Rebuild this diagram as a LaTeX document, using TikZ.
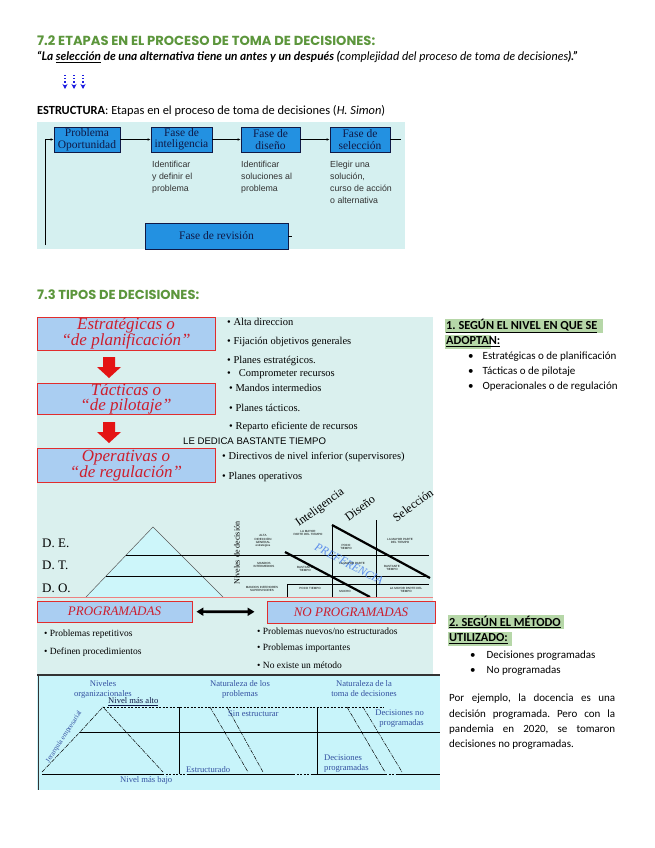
\documentclass[tikz,border=0pt]{standalone}
\usepackage{fontspec}
\usepackage{graphicx}
\setmainfont{Liberation Serif}
\newfontfamily\pop{Poppins}
\newfontfamily\lato{Lato}
\newfontfamily\carl{Carlito}
\newfontfamily\lsans{Liberation Sans}
\usetikzlibrary{arrows.meta,calc}
\definecolor{hgreen}{RGB}{92,150,60}
\definecolor{bgone}{RGB}{213,240,240}
\definecolor{boxblue}{RGB}{35,145,225}
\definecolor{navy}{RGB}{15,25,70}
\definecolor{bgtwo}{RGB}{218,240,238}
\definecolor{pyrfill}{RGB}{205,246,250}
\definecolor{lblue}{RGB}{170,206,242}
\definecolor{rbord}{RGB}{225,45,45}
\definecolor{rtext}{RGB}{205,30,45}
\definecolor{prefblue}{RGB}{90,140,235}
\definecolor{bgthree}{RGB}{200,244,250}
\definecolor{tblue}{RGB}{50,80,160}
\definecolor{hlgreen}{RGB}{182,215,168}
\definecolor{dgray}{RGB}{50,50,50}
\definecolor{arrblue}{RGB}{30,30,225}
\definecolor{redarr}{RGB}{228,20,20}
\frenchspacing
\begin{document}
\begin{tikzpicture}[x=1pt,y=-1pt,
  plain/.style={anchor=west,inner sep=0},
  bbox/.style={draw=navy,line width=0.7pt,fill=boxblue,text=navy,inner sep=0,align=center,font=\fontsize{11.5}{11.5}\selectfont,minimum height=25pt},
  flow/.style={line width=0.6pt,-{Latex[length=3pt,width=2.6pt]}},
  sub/.style={anchor=north west,inner sep=0,align=left,text=dgray,font=\lsans\fontsize{8.8}{12}\selectfont},
  rbox/.style={draw=rbord,line width=1pt,fill=lblue,text=rtext,align=center,inner sep=0,font=\fontsize{17}{15}\selectfont\itshape,minimum width=178pt},
  bul/.style={anchor=west,inner sep=0,font=\fontsize{10.5}{12}\selectfont},
  tiny/.style={inner sep=0,align=center,font=\lsans\fontsize{3}{3.4}\selectfont},
  pbul/.style={anchor=west,inner sep=0,font=\fontsize{9.5}{11}\selectfont},
  tlab/.style={inner sep=0,align=center,text=tblue,font=\fontsize{8.6}{10}\selectfont},
  rtxt/.style={anchor=west,inner sep=0,font=\carl\fontsize{11}{12}\selectfont},
  rhead/.style={anchor=west,inner sep=0,font=\carl\bfseries\fontsize{12.3}{13}\selectfont},
]
\useasboundingbox (0,0) rectangle (655,848);
\fill[white] (0,0) rectangle (655,848);

% ---------- 7.2 ----------
\node[plain,text=hgreen] (h72) at (37,41) {\resizebox{338pt}{!}{\pop\bfseries 7.2 ETAPAS EN EL PROCESO DE TOMA DE DECISIONES:}};
\node[plain] (quote) at (37,57.5) {\resizebox{540pt}{!}{\lato\bfseries\itshape “La \underline{selección} de una alternativa tiene un antes y un después ({\mdseries complejidad del proceso de toma de decisiones}).”}};

\foreach \i/\xx in {1/65,2/74,3/83}{
  \coordinate (da\i) at (\xx,75);
  \coordinate (db\i) at (\xx,89);
  \draw[arrblue,dotted,line width=1.2pt,-{Stealth[length=5pt,width=5pt]}] (da\i) -- (db\i);
}

\node[plain] (estr) at (37,111) {\resizebox{348pt}{!}{\carl{\bfseries ESTRUCTURA}: Etapas en el proceso de toma de decisiones ({\itshape H. Simon})}};

\fill[bgone] (37,122) rectangle (405,249);
\node[bbox,minimum width=66pt] (pb) at (87,139.5) {Problema\\Oportunidad};
\node[bbox,minimum width=61pt] (fi) at (181.5,139.5) {Fase de\\inteligencia};
\node[bbox,minimum width=59pt] (fd) at (270.5,139.5) {Fase de\\diseño};
\node[bbox,minimum width=60pt] (fs) at (360,139.5) {Fase de\\selección};
\node[bbox,minimum width=143pt,minimum height=26pt] (fr) at (216.5,236) {Fase de revisión};
\coordinate (fb) at (45,245);
\coordinate (ft) at (401,139.5);
\coordinate (rt) at (292,236);
\draw[flow] (fb) |- (pb.west);
\draw[flow] (pb) -- (fi);
\draw[flow] (fi) -- (fd);
\draw[flow] (fd) -- (fs);
\draw[line width=0.6pt] (fs.east) -- (ft);
\draw[line width=0.6pt] (fr.east) -- (rt);
\node[sub] (s1) at (152,161) {Identificar\\y definir el\\problema};
\node[sub] (s2) at (241,161) {Identificar\\soluciones al\\problema};
\node[sub] (s3) at (330,161) {Elegir una\\solución,\\curso de acción\\o alternativa};

% ---------- 7.3 ----------
\node[plain,text=hgreen] (h73) at (37,295) {\resizebox{162pt}{!}{\pop\bfseries 7.3 TIPOS DE DECISIONES:}};

\fill[bgtwo] (37,317) rectangle (433,675);
\node[rbox,minimum height=33pt] (est) at (126,333.5) {Estratégicas o\\“de planificación”};
\node[rbox,minimum height=31pt] (tac) at (126,398.5) {Tácticas o\\“de pilotaje”};
\node[rbox,minimum height=34pt] (ope) at (126,465.5) {Operativas o\\“de regulación”};
\fill[redarr] (103,357) -- (115,357) -- (115,367) -- (121,367) -- (109,378) -- (97,367) -- (103,367) -- cycle;
\fill[redarr] (103,422) -- (115,422) -- (115,432) -- (121,432) -- (109,443) -- (97,432) -- (103,432) -- cycle;

\node[bul] (b1) at (227,322) {• Alta direccion};
\node[bul] (b2) at (227,342) {• Fijación objetivos generales};
\node[bul] (b3) at (227,361) {• Planes estratégicos.};
\node[bul] (b4) at (227,374) {•\hspace{8pt}Comprometer recursos};
\node[bul] (b5) at (229,388) {• Mandos intermedios};
\node[bul] (b6) at (229,408) {• Planes tácticos.};
\node[bul] (b7) at (229,427) {• Reparto eficiente de recursos};
\node[plain,font=\lsans\fontsize{9.6}{11}\selectfont] (led) at (183,441) {LE DEDICA BASTANTE TIEMPO};
\node[bul] (b8) at (222,457) {• Directivos de nivel inferior (supervisores)};
\node[bul] (b9) at (222,477) {• Planes operativos};

% pyramid
\fill[pyrfill] (153,527) -- (86,597) -- (223,597) -- cycle;
\draw[gray!70!black,line width=0.5pt] (86,597) -- (153,527) -- (223,597);
\draw[line width=0.9pt] (126,555) -- (429,555);
\draw[line width=0.9pt] (106,576) -- (429,576);
\draw[line width=0.7pt] (287,597) -- (287,584) -- (429,584);
\draw[line width=0.7pt] (332,525) -- (332,597);
\draw[line width=0.7pt] (376,520) -- (376,597);
\draw[line width=2.2pt] (332,525) -- (430,578);
\draw[line width=2.2pt] (285,552) -- (370,597);
\node[anchor=west,inner sep=0,font=\fontsize{13}{14}\selectfont] (de) at (42,543) {D. E.};
\node[anchor=west,inner sep=0,font=\fontsize{13}{14}\selectfont] (dt) at (42,565) {D. T.};
\node[anchor=west,inner sep=0,font=\fontsize{13}{14}\selectfont] (do) at (42,588) {D. O.};
\node[rotate=90,inner sep=0,font=\fontsize{8}{9}\selectfont] (niv) at (237,553) {Niveles de decisión};
\node[rotate=36,inner sep=0,font=\fontsize{12}{13}\selectfont] (ci) at (320,508) {Inteligencia};
\node[rotate=36,inner sep=0,font=\fontsize{12}{13}\selectfont] (cd) at (360,508) {Diseño};
\node[rotate=36,inner sep=0,font=\fontsize{12}{13}\selectfont] (cs) at (413,505) {Selección};
\node[rotate=-28,inner sep=0,text=prefblue,font=\fontsize{11.5}{12}\selectfont\itshape] (pref) at (349,564) {PREFERENCIA};
\node[tiny] (x1) at (263,541) {ALTA\\DIRECCIÓN\\GENERAL\\estratégica};
\node[tiny] (x2) at (308,533) {LA MAYOR\\PARTE DEL TIEMPO};
\node[tiny] (x3) at (346,547) {POCO\\TIEMPO};
\node[tiny] (x4) at (400,541) {LA MAYOR PARTE\\DEL TIEMPO};
\node[tiny] (x5) at (264,565) {MANDOS\\INTERMEDIOS};
\node[tiny] (x6) at (305,569) {BASTANTE\\TIEMPO};
\node[tiny] (x7) at (352,563) {LA MAYOR PARTE};
\node[tiny] (x8) at (392,568) {BASTANTE\\TIEMPO};
\node[tiny] (x9) at (262,589) {MANDOS INFERIORES\\SUPERVISORES};
\node[tiny] (x10) at (310,588) {POCO TIEMPO};
\node[tiny] (x11) at (345,591) {MUCHO};
\node[tiny] (x12) at (406,590) {LA MAYOR PARTE DEL\\TIEMPO};

% programadas
\draw[rbord!60,line width=0.6pt] (37,597) -- (433,597);
\node[draw=rbord,line width=0.9pt,fill=lblue,text=rtext,minimum width=155pt,minimum height=21pt,inner sep=0,font=\fontsize{13}{14}\selectfont\itshape] (prog) at (114.5,611.5) {PROGRAMADAS};
\node[draw=rbord,line width=0.9pt,fill=lblue,text=rtext,minimum width=168pt,minimum height=22pt,inner sep=0,font=\fontsize{13}{14}\selectfont\itshape] (nprog) at (351,612) {NO PROGRAMADAS};
\draw[line width=2.6pt,{Triangle[length=7pt,width=8pt]}-{Triangle[length=7pt,width=8pt]},shorten <=4pt,shorten >=12pt] (prog) -- (nprog);
\node[pbul] (p1) at (44,634) {• Problemas repetitivos};
\node[pbul] (p2) at (44,652) {• Definen procedimientos};
\node[pbul] (p3) at (257,631) {• Problemas nuevos/no estructurados};
\node[pbul] (p4) at (257,648) {• Problemas importantes};
\node[pbul] (p5) at (257,665) {• No existe un método};

% bottom table
\fill[bgthree] (37,675) rectangle (440,790);
\draw[line width=1.2pt,black!80] (37,675) -- (440,675);
\draw[line width=0.8pt,black!80] (38,675) -- (38,790);
\node[tlab] (t1) at (103,689) {Niveles\\organizacionales};
\node[tlab] (t2) at (240,689) {Naturaleza de los\\problemas};
\node[tlab] (t3) at (364,689) {Naturaleza de la\\toma de decisiones};
\draw[line width=0.9pt,dash pattern=on 2pt off 1.5pt] (103,707) -- (384,707);
\draw[line width=0.8pt] (80,732) -- (440,732);
\draw[line width=0.8pt] (42,774) -- (162,774);
\draw[line width=0.8pt,dash pattern=on 2pt off 1.5pt] (162,774) -- (187,774);
\draw[line width=0.8pt] (187,774) -- (293,774);
\draw[line width=0.8pt,dash pattern=on 2pt off 1.5pt] (293,774) -- (313,774);
\draw[line width=0.8pt] (313,774) -- (385,774);
\draw[line width=0.8pt,dash pattern=on 2pt off 1.5pt] (385,774) -- (397,774);
\draw[line width=0.8pt] (397,774) -- (440,774);
\draw[line width=0.8pt] (179,707) -- (179,774);
\draw[line width=0.8pt] (317,707) -- (317,774);
\draw[line width=0.5pt,dash pattern=on 4pt off 1pt on 1pt off 1pt] (42,772) -- (80,732) -- (103,707) -- (163,772);
\draw[line width=0.5pt,dash pattern=on 4pt off 1pt on 1pt off 1pt] (210,707) -- (248,772);
\draw[line width=0.5pt,dash pattern=on 4pt off 1pt on 1pt off 1pt] (227,707) -- (263,772);
\draw[line width=0.5pt,dash pattern=on 4pt off 1pt on 1pt off 1pt] (347,707) -- (385,772);
\draw[line width=0.5pt,dash pattern=on 4pt off 1pt on 1pt off 1pt] (363,707) -- (402,772);
\node[tlab,anchor=west,text=navy] (nma) at (108,702) {\underline{Nivel más alto}};
\node[tlab,anchor=west] (nmb) at (120,780) {Nivel más bajo};
\node[tlab,anchor=west] (sinest) at (228,714) {Sin estructurar};
\node[tlab,align=right,anchor=east] (dnp) at (424,719) {Decisiones no\\programadas};
\node[tlab,anchor=west] (estru) at (186,770) {Estructurado};
\node[tlab,align=left,anchor=west] (dp) at (324,764) {Decisiones\\programadas};
\node[tlab,rotate=57,font=\fontsize{7}{8}\selectfont] (jer) at (64,737) {Jerarquía empresarial};

% right column
\fill[hlgreen] (445,319) rectangle (603,333);
\fill[hlgreen] (445,335) rectangle (491,349);
\node[rhead] (r1) at (446,326) {\underline{1. SEGÚN EL NIVEL EN QUE SE}};
\node[rhead] (r2) at (446,342) {\underline{ADOPTAN:}};
\node[rtxt] (r3) at (468,357) {•\hspace{9pt}Estratégicas o de planificación};
\node[rtxt] (r4) at (468,372) {•\hspace{9pt}Tácticas o de pilotaje};
\node[rtxt] (r5) at (468,387) {•\hspace{9pt}Operacionales o de regulación};

\fill[hlgreen] (448,615) rectangle (564,629);
\fill[hlgreen] (448,632) rectangle (512,646);
\node[rhead] (q1) at (449,622) {\underline{2. SEGÚN EL MÉTODO}};
\node[rhead] (q2) at (449,639) {\underline{UTILIZADO:}};
\node[rtxt] (q3) at (470,656) {•\hspace{11pt}Decisiones programadas};
\node[rtxt] (q4) at (470,671) {•\hspace{11pt}No programadas};
\node[anchor=north west,inner sep=0,align=left,font=\carl\fontsize{11}{15.3}\selectfont] (par) at (449,694) {\makebox[166pt][s]{Por ejemplo, la docencia es una}\\\makebox[166pt][s]{decisión programada. Pero con la}\\\makebox[166pt][s]{pandemia en 2020, se tomaron}\\decisiones no programadas.};
\end{tikzpicture}
\end{document}
